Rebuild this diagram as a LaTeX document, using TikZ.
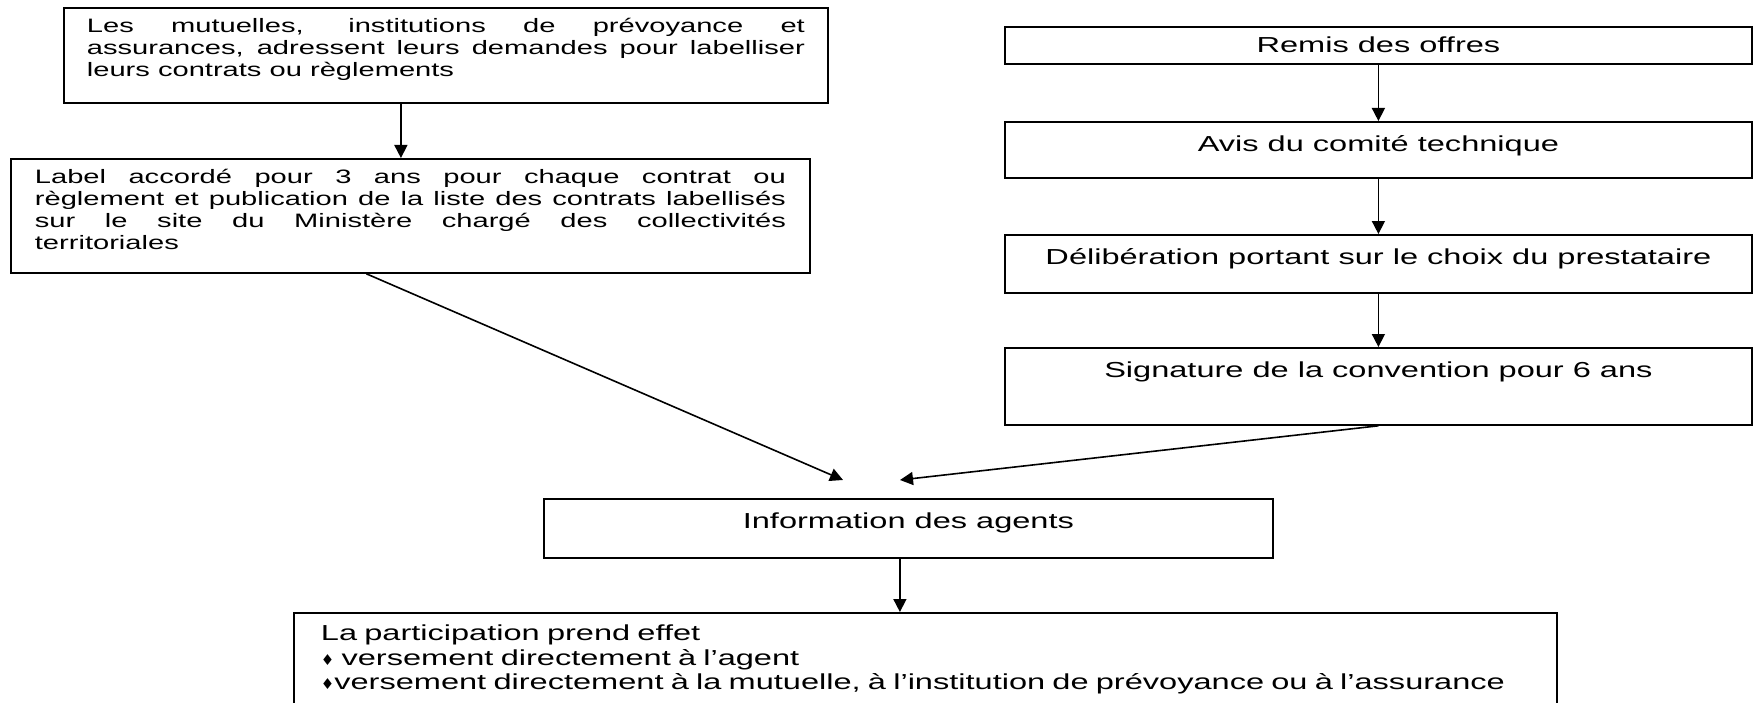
\documentclass[tikz,border=0pt]{standalone}
\usepackage{fontspec}
\setmainfont{Liberation Sans}[FakeStretch=1.5]
\newfontfamily\symb{DejaVu Sans}
\usetikzlibrary{arrows.meta}

\begin{document}
\begin{tikzpicture}[x=1bp,y=-1bp,
  boite/.style={draw,rectangle,line width=1.8bp,inner ysep=0pt,anchor=north west},
  gauche/.style={boite,font=\fontsize{19.4bp}{22bp}\selectfont,align=justify,text height=25bp},
  droite/.style={boite,font=\fontsize{21.7bp}{24.5bp}\selectfont,inner xsep=0pt,align=center,text height=30bp},
  fleche/.style={line width=1.6bp,-{Triangle[length=13bp,width=13bp]}}]
  \useasboundingbox (0,0) rectangle (1761,703);
  \clip (0,0) rectangle (1761,703);

  % Colonne gauche
  \node[gauche,inner xsep=23bp,text width=718bp,text depth=70bp] (mut) at (63,7)
    {Les mutuelles, institutions de prévoyance et\linebreak assurances, adressent leurs demandes pour labelliser\linebreak leurs contrats ou règlements};
  \node[gauche,inner xsep=24bp,text width=751bp,text depth=89bp] (label) at (10,158)
    {Label accordé pour 3 ans pour chaque contrat ou\linebreak règlement et publication de la liste des contrats labellisés\linebreak sur le site du Ministère chargé des collectivités\linebreak territoriales};

  % Colonne droite
  \node[droite,minimum width=747bp,text height=26bp,text depth=11bp] (remis) at (1004,26) {Remis des offres};
  \node[droite,minimum width=747bp,text depth=26bp] (avis) at (1004,121) {Avis du comité technique};
  \node[droite,minimum width=747bp,text depth=28bp] (delib) at (1004,234) {Délibération portant sur le choix du prestataire};
  \node[droite,minimum width=747bp,text depth=47bp] (sig) at (1004,347) {Signature de la convention pour 6 ans};

  % Bas
  \node[droite,minimum width=729bp,text depth=29bp] (info) at (543,498) {Information des agents};
  \node[droite,inner xsep=27bp,text width=1209bp,align=left,text height=28bp,text depth=95bp] (effet) at (293,612)
    {La participation prend effet\\
     \mbox{{\symb\fontsize{15bp}{15bp}\selectfont ♦} versement directement à l’agent}\\
     \mbox{{\symb\fontsize{15bp}{15bp}\selectfont ♦}versement directement à la mutuelle, à l’institution de prévoyance ou à l’assurance}};

  % Flèches
  \draw[fleche] ([xshift=-45bp]mut.south) -- ([xshift=-45bp]mut.south |- label.north);
  \foreach \from/\to in {remis/avis, avis/delib, delib/sig}
    \draw[fleche] (\from.south) -- (\to.north);
  \coordinate (pg) at (843,480);
  \coordinate (pd) at (900,480);
  \draw[fleche] ([xshift=-44bp]label.south) -- (pg);
  \draw[fleche] (sig.south) -- (pd);
  \draw[fleche] ([xshift=-8.5bp]info.south) -- ([xshift=-8.5bp]info.south |- effet.north);
\end{tikzpicture}
\end{document}
